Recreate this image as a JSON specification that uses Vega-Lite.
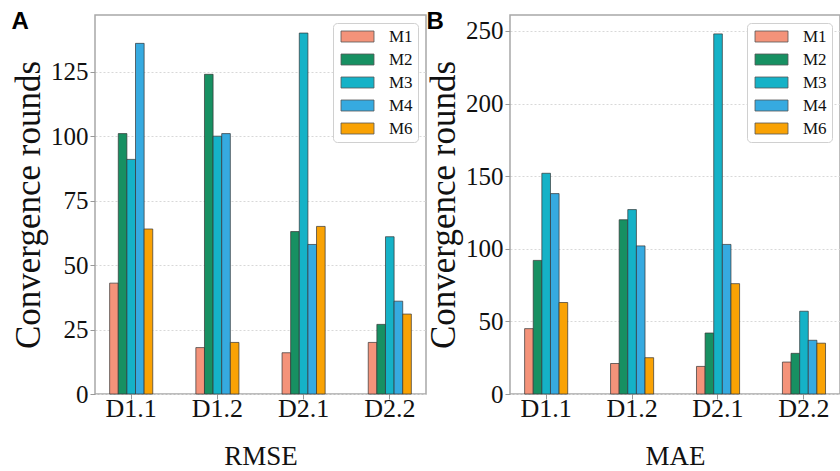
{
  "$schema": "https://vega.github.io/schema/vega-lite/v6.json",
  "padding": {"left": 10, "top": 9, "right": 0, "bottom": 0},
  "background": "white",
  "spacing": -2,
  "config": {
    "font": "Liberation Serif",
    "view": {"stroke": "#a8a8a8", "strokeWidth": 1.5},
    "axis": {"labelFont": "Liberation Serif", "titleFont": "Liberation Serif", "labelColor": "#111", "titleColor": "#111", "titleFontWeight": "normal", "domain": false, "tickColor": "#999", "tickSize": 5, "gridDash": [2, 2], "gridColor": "#d8d8d8", "gridWidth": 1},
    "legend": {"title": null, "orient": "top-right", "offset": 8, "padding": 5, "strokeColor": "#d0d0d0", "fillColor": "white", "cornerRadius": 4, "symbolType": "M-1,-1H5V1H-1Z", "symbolSize": 121, "symbolStrokeColor": "#555", "symbolStrokeWidth": 0.8, "labelFont": "Liberation Serif", "labelFontSize": 17, "labelOffset": 34, "rowPadding": 5, "labelColor": "#111"},
    "title": {"anchor": "start", "frame": "bounds", "baseline": "top", "offset": -29, "dy": -10, "dx": 0, "font": "Liberation Sans", "fontWeight": "bold", "fontSize": 24, "color": "#000"}
  },
  "datasets": {
    "rmse": [
      {"dataset": "D1.1", "method": "M1", "value": 43},
      {"dataset": "D1.1", "method": "M2", "value": 101},
      {"dataset": "D1.1", "method": "M3", "value": 91},
      {"dataset": "D1.1", "method": "M4", "value": 136},
      {"dataset": "D1.1", "method": "M6", "value": 64},
      {"dataset": "D1.2", "method": "M1", "value": 18},
      {"dataset": "D1.2", "method": "M2", "value": 124},
      {"dataset": "D1.2", "method": "M3", "value": 100},
      {"dataset": "D1.2", "method": "M4", "value": 101},
      {"dataset": "D1.2", "method": "M6", "value": 20},
      {"dataset": "D2.1", "method": "M1", "value": 16},
      {"dataset": "D2.1", "method": "M2", "value": 63},
      {"dataset": "D2.1", "method": "M3", "value": 140},
      {"dataset": "D2.1", "method": "M4", "value": 58},
      {"dataset": "D2.1", "method": "M6", "value": 65},
      {"dataset": "D2.2", "method": "M1", "value": 20},
      {"dataset": "D2.2", "method": "M2", "value": 27},
      {"dataset": "D2.2", "method": "M3", "value": 61},
      {"dataset": "D2.2", "method": "M4", "value": 36},
      {"dataset": "D2.2", "method": "M6", "value": 31}
    ],
    "mae": [
      {"dataset": "D1.1", "method": "M1", "value": 45},
      {"dataset": "D1.1", "method": "M2", "value": 92},
      {"dataset": "D1.1", "method": "M3", "value": 152},
      {"dataset": "D1.1", "method": "M4", "value": 138},
      {"dataset": "D1.1", "method": "M6", "value": 63},
      {"dataset": "D1.2", "method": "M1", "value": 21},
      {"dataset": "D1.2", "method": "M2", "value": 120},
      {"dataset": "D1.2", "method": "M3", "value": 127},
      {"dataset": "D1.2", "method": "M4", "value": 102},
      {"dataset": "D1.2", "method": "M6", "value": 25},
      {"dataset": "D2.1", "method": "M1", "value": 19},
      {"dataset": "D2.1", "method": "M2", "value": 42},
      {"dataset": "D2.1", "method": "M3", "value": 248},
      {"dataset": "D2.1", "method": "M4", "value": 103},
      {"dataset": "D2.1", "method": "M6", "value": 76},
      {"dataset": "D2.2", "method": "M1", "value": 22},
      {"dataset": "D2.2", "method": "M2", "value": 28},
      {"dataset": "D2.2", "method": "M3", "value": 57},
      {"dataset": "D2.2", "method": "M4", "value": 37},
      {"dataset": "D2.2", "method": "M6", "value": 35}
    ]
  },
  "resolve": {"scale": {"y": "independent"}, "legend": {"color": "independent"}},
  "hconcat": [
    {
      "title": {"text": "A"},
      "data": {"name": "rmse"},
      "width": 331,
      "height": 379,
      "mark": {"type": "bar", "stroke": "#333", "strokeWidth": 0.7},
      "encoding": {
        "x": {"field": "dataset", "type": "nominal", "sort": ["D1.1", "D1.2", "D2.1", "D2.2"], "scale": {"paddingInner": 0.5, "paddingOuter": 0.17}, "axis": {"title": "RMSE", "labelAngle": 0, "labelFontSize": 26, "titleFontSize": 27, "titlePadding": 22, "labelPadding": -4, "grid": false}},
        "xOffset": {"field": "method", "type": "nominal", "sort": ["M1", "M2", "M3", "M4", "M6"], "scale": {"paddingInner": 0, "paddingOuter": 0}},
        "y": {"field": "value", "type": "quantitative", "scale": {"domain": [0, 147], "nice": false}, "axis": {"title": "Convergence rounds", "values": [0, 25, 50, 75, 100, 125], "titleFontSize": 35, "labelFontSize": 25, "titlePadding": 4}},
        "color": {"field": "method", "type": "nominal", "scale": {"domain": ["M1", "M2", "M3", "M4", "M6"], "range": ["#F4937A", "#179062", "#15B2C7", "#36AAE0", "#F9A204"]}}
      }
    },
    {
      "title": {"text": "B"},
      "data": {"name": "mae"},
      "width": 330,
      "height": 379,
      "mark": {"type": "bar", "stroke": "#333", "strokeWidth": 0.7},
      "encoding": {
        "x": {"field": "dataset", "type": "nominal", "sort": ["D1.1", "D1.2", "D2.1", "D2.2"], "scale": {"paddingInner": 0.5, "paddingOuter": 0.17}, "axis": {"title": "MAE", "labelAngle": 0, "labelFontSize": 26, "titleFontSize": 27, "titlePadding": 22, "labelPadding": -4, "grid": false}},
        "xOffset": {"field": "method", "type": "nominal", "sort": ["M1", "M2", "M3", "M4", "M6"], "scale": {"paddingInner": 0, "paddingOuter": 0}},
        "y": {"field": "value", "type": "quantitative", "scale": {"domain": [0, 261], "nice": false}, "axis": {"title": "Convergence rounds", "values": [0, 50, 100, 150, 200, 250], "titleFontSize": 35, "labelFontSize": 25, "titlePadding": 4}},
        "color": {"field": "method", "type": "nominal", "scale": {"domain": ["M1", "M2", "M3", "M4", "M6"], "range": ["#F4937A", "#179062", "#15B2C7", "#36AAE0", "#F9A204"]}}
      }
    }
  ]
}
